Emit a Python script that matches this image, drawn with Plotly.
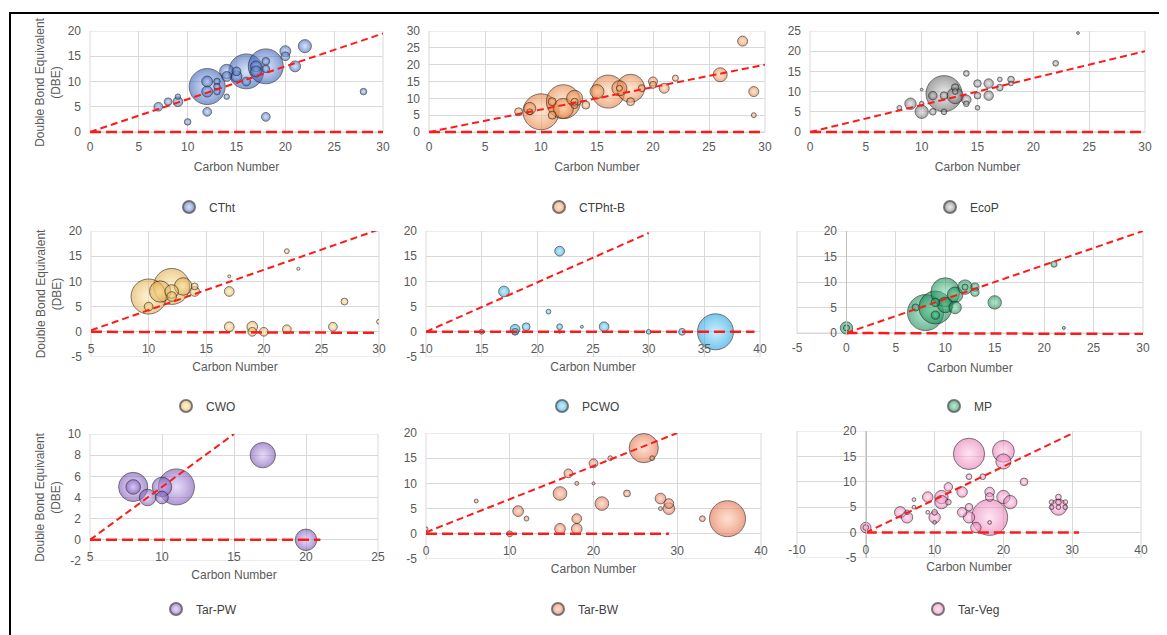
import plotly.graph_objects as go

# page body adds an 8px margin, so the figure is 8px smaller and every pixel target is shifted by 8
OFF = 8
W, H = 1167 - OFF, 635 - OFF

# ---------------- data (carbon number, DBE, relative abundance) ----------------
ctht_c = [7, 8, 9, 9, 10, 12, 12, 12, 12, 13, 13, 13, 14, 14, 14, 15, 15, 16, 16, 17, 17, 18, 18, 18, 18, 20, 20, 21, 22, 28]
ctht_dbe = [5, 6, 7, 6, 2, 4, 9, 10, 8, 10, 9, 8, 7, 12, 11, 12, 11, 12, 10, 13, 12, 13, 12.5, 14, 3, 16, 15, 13, 17, 8]
ctht_ab = [5.9, 4.5, 2.3, 7.4, 3.3, 5.9, 100, 9.2, 9.2, 3.3, 3.3, 3.3, 2.3, 15.5, 7.4, 5.9, 9.2, 94, 5.9, 9.2, 9.2, 94, 4.5, 4.5, 5.9, 9.2, 5.9, 9.2, 13.2, 3.3]

ctphtb_c = [8, 9, 9, 10, 11, 11, 12, 12, 13, 13, 13, 14, 15, 16, 17, 17, 18, 18, 19, 20, 20, 21, 22, 26, 28, 29, 29]
ctphtb_dbe = [6, 7, 6, 6, 9, 5, 9, 7, 10, 8, 9, 8, 12, 12, 13, 13, 13, 9, 13, 15, 14, 13, 16, 17, 27, 12, 5]
ctphtb_ab = [4.9, 11.1, 2.8, 100, 4.9, 4.9, 89, 30.9, 19.8, 3.8, 3.8, 4.9, 15.1, 84, 17.4, 2.8, 60.5, 4.9, 3.8, 6.3, 3.8, 7.7, 2.8, 15.1, 7.7, 7.7, 1.9]

ecop_c = [8, 9, 10, 10, 10, 11, 11, 12, 12, 12, 13, 13, 13, 14, 14, 14, 15, 15, 15, 16, 16, 17, 17, 18, 18, 22, 24]
ecop_dbe = [6, 7, 10.5, 7, 5, 5, 9, 9.5, 9, 5, 11, 10, 9, 14.5, 8, 7, 12, 9, 6, 12, 9, 13, 11, 13, 12, 17, 24.5]
ecop_ab = [1.7, 10, 0.6, 1.7, 13.6, 3.4, 5.6, 100, 4.4, 2.5, 4.4, 2.5, 20, 2.5, 6.9, 2.5, 4.4, 3.4, 1.7, 6.9, 6.9, 1.7, 3.4, 3.4, 1.7, 2.5, 0.6]

cwo_c = [10, 10, 12, 11, 12, 12, 13, 14, 14, 17, 17, 17, 19, 19, 20, 22, 22, 23, 26, 27, 30]
cwo_dbe = [7, 5, 9, 8, 7, 8, 9, 9, 8, 11, 8, 1, 1, 0, 0, 16, 0.5, 12.5, 1, 6, 2]
cwo_ab = [95, 5.9, 100, 35, 7.3, 14.3, 23.7, 3.6, 7.3, 0.7, 7.3, 7.3, 8.8, 5.9, 5.9, 1.8, 5.9, 0.7, 5.9, 3.6, 1.8]

pcwo_c = [15, 17, 18, 18, 19, 21, 22, 22, 22, 24, 26, 30, 33, 36]
pcwo_dbe = [0, 8, 0.5, 0, 1, 4, 16, 1, 0, 1, 1, 0, 0, 0]
pcwo_ab = [1.8, 8.8, 7.3, 3.6, 4.7, 1.8, 7.3, 2.6, 0.7, 0.7, 7.3, 1.8, 3.6, 100]

mp_c = [0, 0, 7, 8, 9, 9, 9, 10, 10, 11, 11, 12, 12, 13, 13, 15, 21, 22]
mp_dbe = [1, 1, 5, 4, 5, 6, 3.5, 8, 5.5, 7.5, 5, 9, 9, 9, 8, 6, 13.5, 1]
mp_ab = [11.8, 2.9, 4, 100, 83.6, 5.2, 5.2, 64, 18.4, 18.4, 11.8, 16, 2.9, 5.2, 5.2, 13.8, 2.9, 0.7]

tarpw_c = [8, 8, 9, 10, 10, 11, 17, 20]
tarpw_dbe = [5, 5, 4, 5, 4, 5, 8, 0]
tarpw_ab = [65.7, 16.4, 21.1, 29.2, 12.3, 100, 49.4, 35.4]

tarbw_c = [0, 6, 10, 11, 12, 16, 16, 17, 18, 18, 18, 20, 20, 21, 22, 24, 26, 27, 28, 28, 29, 29, 33, 36]
tarbw_dbe = [1, 6.5, 0, 4.5, 3, 8, 1, 12, 10, 3, 1, 14, 10, 6, 15, 8, 17, 15, 7, 5, 6, 5, 3, 3]
tarbw_ab = [1.2, 1.2, 2.6, 8.8, 1.8, 14.3, 8.8, 5.9, 1.2, 7.3, 8.8, 5.9, 0.7, 14.3, 1.8, 3.6, 65.7, 1.8, 8.8, 1.2, 7.3, 10.5, 2.6, 100]

tarveg_c = [0, 0, 5, 6, 6, 7, 7, 9, 9, 10, 10, 10, 11, 11, 12, 12, 14, 14, 15, 15, 15, 15, 16, 17, 18, 18, 18, 18, 20, 20, 20, 21, 23, 28, 28, 28, 27, 29, 27, 29, 28]
tarveg_dbe = [1, 1, 4, 3, 4, 6.5, 5, 7, 4, 3, 4, 2, 7, 6, 9, 6, 8, 4, 5, 11, 3, 15.5, 1, 11, 8, 7, 3, 2, 16, 14, 7, 6, 10, 5, 7, 6, 6, 6, 5, 5, 5]
tarveg_ab = [8.4, 2.5, 10, 10, 1.7, 1.1, 1.1, 8.4, 1.1, 10, 2.5, 1.1, 13.6, 13.6, 5.6, 2.5, 8.4, 6.9, 4.4, 2.5, 10, 75.4, 8.4, 2.5, 6.9, 5.6, 100, 1.1, 36.6, 17.7, 13.6, 13.6, 4.4, 20, 2.5, 2.5, 1.7, 1.7, 1.7, 1.7, 1.7]

# reference lines (red dashed): diagonal and DBE = 0 baseline, one entry per panel
diag_x0 = [0, 0, 0, 5, 10, 0, 5, 0, 0]
diag_x1 = [30, 30, 30, 30, 30, 30, 15, 30, 30]
diag_y0 = [0, 0, 0, 0.3, 0, 0, 0, 0.3, 0]
diag_y1 = [19.5, 20, 20, 20.3, 19.6, 20, 10, 20, 19.5]
base_x0 = [0, 0, 0, 5, 10, 0, 5, 0, 0]
base_x1 = [30, 30, 30, 30, 39.5, 30, 21, 29, 31]
base_y0 = [0, 0, 0, 0, 0, 0, 0, 0, 0]
base_y1 = [0, 0, 0, -0.2, 0, -0.2, 0, 0, 0]

names = ['CTht', 'CTPht-B', 'EcoP', 'CWO', 'PCWO', 'MP', 'Tar-PW', 'Tar-BW', 'Tar-Veg']
xs = [ctht_c, ctphtb_c, ecop_c, cwo_c, pcwo_c, mp_c, tarpw_c, tarbw_c, tarveg_c]
ys = [ctht_dbe, ctphtb_dbe, ecop_dbe, cwo_dbe, pcwo_dbe, mp_dbe, tarpw_dbe, tarbw_dbe, tarveg_dbe]
abs_ = [ctht_ab, ctphtb_ab, ecop_ab, cwo_ab, pcwo_ab, mp_ab, tarpw_ab, tarbw_ab, tarveg_ab]

x_ranges = [(0, 30), (0, 30), (0, 30), (5, 30), (10, 40), (-5, 30), (5, 25), (0, 40), (-10, 40)]
x_dticks = [5, 5, 5, 5, 5, 5, 5, 10, 10]
y_ranges = [(0, 20), (0, 30), (0, 25), (-5, 20), (-5, 20), (0, 20), (-2, 10), (-5, 20), (-5, 20)]
y_dticks = [5, 5, 5, 5, 5, 5, 2, 5, 5]

# ---------------- styling ----------------
edge_cols = ['rgba(50,90,180,0.85)', 'rgba(230,125,60,0.85)', 'rgba(100,100,100,0.85)',
             'rgba(225,170,70,0.85)', 'rgba(25,160,225,0.85)', 'rgba(15,135,80,0.85)',
             'rgba(120,80,180,0.85)', 'rgba(225,105,65,0.85)', 'rgba(230,110,175,0.8)']
centre_cols = ['rgba(170,195,245,0.7)', 'rgba(255,205,160,0.7)', 'rgba(210,210,210,0.7)',
               'rgba(255,232,175,0.7)', 'rgba(150,222,250,0.75)', 'rgba(110,210,160,0.7)',
               'rgba(205,180,240,0.7)', 'rgba(255,190,160,0.7)', 'rgba(255,200,230,0.7)']
# plot-area boxes in window pixels: left, right, top, bottom
boxes = [(90, 383, 31, 132), (429, 765, 31, 132), (810, 1145, 31, 132),
         (91, 379, 231, 357), (426, 760, 231, 357), (797, 1143, 231, 333),
         (90, 378, 434, 561), (426, 761, 433, 559), (797, 1141, 431, 558)]
legend_text_x = [203, 573, 964, 200, 576, 968, 190, 572, 952]
legend_y = [207, 207, 207, 406, 406, 406, 609, 609, 609]
DMAX = 36
FONT = 'Arial, Liberation Sans, sans-serif'
GREY = '#595959'
GRID = '#d9d9d9'
PAD = 2  # px of extra room below a zero-based range so the baseline is not clipped


def fx(p):
    return (p - OFF) / W


def fy(p):
    return 1 - (p - OFF) / H


def fmt(v):
    return str(int(v)) if float(v).is_integer() else str(v)


fig = go.Figure()
layout = dict(width=W, height=H, margin=dict(l=0, r=0, t=0, b=0, pad=0), autosize=False,
              paper_bgcolor='white', plot_bgcolor='white', showlegend=True,
              font=dict(family=FONT, size=12, color=GREY))
shapes = []

for i in range(9):
    k = '' if i == 0 else str(i + 1)
    xa, ya = 'x' + k, 'y' + k
    order = sorted(range(len(xs[i])), key=lambda j: -abs_[i][j])
    px = [xs[i][j] for j in order]
    py = [ys[i][j] for j in order]
    pa = [abs_[i][j] for j in order]
    leg = 'legend' + k
    fig.add_trace(go.Scatter(
        x=px, y=py, mode='markers', name=names[i], xaxis=xa, yaxis=ya, legend=leg,
        marker=dict(size=pa, sizemode='area', sizeref=2 * max(pa) / DMAX ** 2,
                    color=edge_cols[i], gradient=dict(type='radial', color=centre_cols[i]),
                    line=dict(color='rgba(30,30,30,0.85)', width=1)),
        hoverinfo='skip'))
    fig.add_trace(go.Scatter(
        x=[diag_x0[i], diag_x1[i]], y=[diag_y0[i], diag_y1[i]], mode='lines',
        xaxis=xa, yaxis=ya, showlegend=False,
        line=dict(color='#ff1a1a', width=2, dash='7px,4px'), hoverinfo='skip'))
    fig.add_trace(go.Scatter(
        x=[base_x0[i], base_x1[i]], y=[base_y0[i], base_y1[i]], mode='lines',
        xaxis=xa, yaxis=ya, showlegend=False,
        line=dict(color='#ff1a1a', width=2.5, dash='11px,5px'), hoverinfo='skip'))

    l, r, t, b = boxes[i]
    x0, x1 = x_ranges[i]
    y0, y1 = y_ranges[i]
    # zero-based ranges get a couple of pixels of room so the DBE = 0 line is drawn whole
    y0_draw, b_draw = y0, b
    if y0 == 0:
        unit = (b - t) / (y1 - y0)
        y0_draw = y0 - PAD / unit
        b_draw = b + PAD
    xd = [fx(l), fx(r)]
    yd = [fy(b_draw), fy(t)]
    xt = list(range(int(x0), int(x1) + 1, x_dticks[i]))
    yt = list(range(int(y0), int(y1) + 1, y_dticks[i]))
    free_x = y0 < 0
    free_y = x0 < 0
    xaxis = dict(domain=xd, range=[x0, x1], tickmode='array', tickvals=xt, ticktext=[fmt(v) for v in xt],
                 showgrid=True, gridcolor=GRID, gridwidth=1, zeroline=False, ticks='', showline=False,
                 automargin=False, tickfont=dict(family=FONT, size=12, color=GREY),
                 ticklabelstandoff=8 if free_x else 4,
                 title=dict(text='Carbon Number', font=dict(family=FONT, size=12, color=GREY),
                            standoff=7 if free_x else 9))
    yaxis = dict(domain=yd, range=[y0_draw, y1], tickmode='array', tickvals=yt, ticktext=[fmt(v) for v in yt],
                 showgrid=True, gridcolor=GRID, gridwidth=1, zeroline=False, ticks='', showline=False,
                 automargin=False, tickfont=dict(family=FONT, size=12, color=GREY),
                 ticklabelstandoff=7 if free_y else 8)
    if free_x:
        xaxis['anchor'] = 'free'
        xaxis['position'] = yd[0] + (0 - y0) / (y1 - y0) * (yd[1] - yd[0])
    else:
        xaxis['anchor'] = ya
    if free_y:
        yaxis['anchor'] = 'free'
        yaxis['position'] = xd[0] + (0 - x0) / (x1 - x0) * (xd[1] - xd[0])
        yaxis['showline'] = True
        yaxis['linecolor'] = '#bfbfbf'
        yaxis['linewidth'] = 1
    else:
        yaxis['anchor'] = xa
    if i % 3 == 0:
        yaxis['title'] = dict(text='Double Bond Equivalent<br>(DBE)',
                              font=dict(family=FONT, size=12, color=GREY), standoff=4)
    layout['xaxis' + k] = xaxis
    layout['yaxis' + k] = yaxis
    layout[leg] = dict(x=fx(legend_text_x[i] - 34), y=fy(legend_y[i]), xanchor='left', yanchor='middle',
                       orientation='h', bgcolor='rgba(0,0,0,0)', itemsizing='constant',
                       font=dict(family=FONT, size=12, color='#404040'))
    shapes.append(dict(type='rect', xref=xa + ' domain', yref=ya, x0=0, x1=1, y0=y0, y1=y1,
                       line=dict(color=GRID, width=1), layer='below'))

# outer black frame
shapes.append(dict(type='rect', xref='paper', yref='paper', x0=fx(10), x1=1.02, y0=-0.03, y1=fy(13),
                   line=dict(color='black', width=2)))
layout['shapes'] = shapes
fig.update_layout(**layout)
fig.write_html('out.html')
